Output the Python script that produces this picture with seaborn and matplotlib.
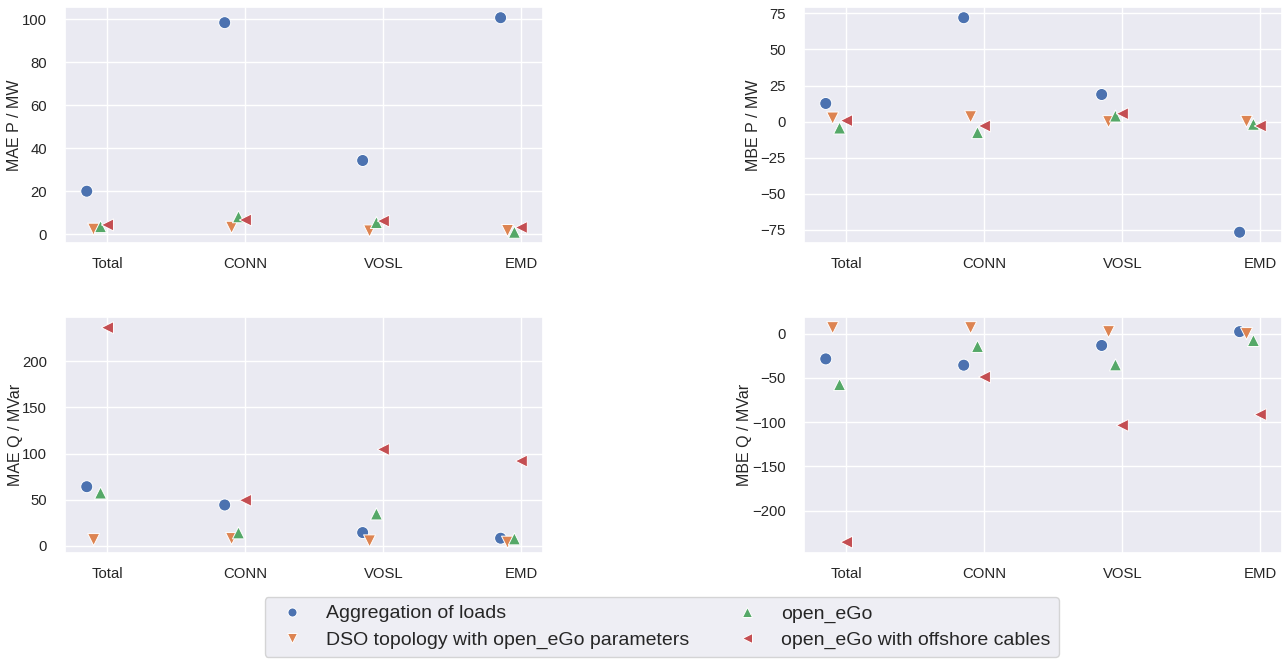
import seaborn as sns
import matplotlib.pyplot as plt
import pandas as pd
import numpy as np

sns.set_theme(style="darkgrid")
plt.rcParams['font.family'] = ['Liberation Sans', 'DejaVu Sans']

CATEGORIES = ['Total', 'CONN', 'VOSL', 'EMD']
MODELS = ['Aggregation of loads', 'DSO topology with open_eGo parameters',
          'open_eGo', 'open_eGo with offshore cables']

# values per model, in order Total, CONN, VOSL, EMD
mae_p = {
    'Aggregation of loads': [20.0, 98.5, 34.3, 100.8],
    'DSO topology with open_eGo parameters': [2.3, 3.2, 1.5, 1.7],
    'open_eGo': [3.5, 8.1, 5.4, 0.9],
    'open_eGo with offshore cables': [4.3, 6.6, 6.1, 3.1],
}
mbe_p = {
    'Aggregation of loads': [12.6, 72.0, 18.8, -76.6],
    'DSO topology with open_eGo parameters': [2.5, 3.4, 0.0, 0.2],
    'open_eGo': [-4.4, -7.6, 3.9, -1.8],
    'open_eGo with offshore cables': [0.7, -3.0, 5.5, -3.0],
}
mae_q = {
    'Aggregation of loads': [64.1, 44.3, 14.4, 8.3],
    'DSO topology with open_eGo parameters': [6.8, 7.9, 5.4, 4.0],
    'open_eGo': [57.3, 14.1, 34.6, 7.6],
    'open_eGo with offshore cables': [236.4, 49.4, 104.5, 91.9],
}
mbe_q = {
    'Aggregation of loads': [-28.6, -35.7, -13.4, 2.2],
    'DSO topology with open_eGo parameters': [6.7, 6.7, 2.2, 0.0],
    'open_eGo': [-57.6, -14.5, -35.3, -7.8],
    'open_eGo with offshore cables': [-235.7, -49.1, -103.7, -91.5],
}

OFFSETS = [-0.15, -0.1, -0.05, 0.0]
MARKERS = ['o', 'v', '^', '<']

panels = [(mae_p, 'MAE P / MW', -0.090), (mbe_p, 'MBE P / MW', -0.090),
          (mae_q, 'MAE Q / MVar', -0.088), (mbe_q, 'MBE Q / MVar', -0.109)]

fig, axes = plt.subplots(2, 2, figsize=(12.85, 6.59), dpi=100)
fig.subplots_adjust(left=0.0506, right=0.9977, top=0.9894, bottom=0.161,
                    wspace=0.546, hspace=0.3136)

for i, (data, label, lx) in enumerate(panels):
    ax = axes.flat[i]
    rows = []
    for m, off in zip(MODELS, OFFSETS):
        for j, c in enumerate(CATEGORIES):
            rows.append({'pos': j + off, 'val': data[m][j], 'model': m})
    df = pd.DataFrame(rows)
    sns.scatterplot(data=df, x='pos', y='val', hue='model', style='model',
                    markers=MARKERS, s=75, ax=ax, legend=(i == 0))
    ax.set_xticks(range(len(CATEGORIES)))
    ax.set_xticklabels(CATEGORIES)
    ax.set_xlabel('')
    ax.set_ylabel(label, fontsize=11.5)
    ax.yaxis.set_label_coords(lx, 0.5)
    ax.tick_params(axis='y', labelsize=10.7, pad=7)
    ax.tick_params(axis='x', labelsize=10.7, pad=4)

handles, labels = axes[0, 0].get_legend_handles_labels()
axes[0, 0].get_legend().remove()
fig.legend(handles, labels, loc='center', bbox_to_anchor=(0.5148, 0.0486), ncol=2,
           fontsize=14, markerscale=0.75, columnspacing=2.0, handletextpad=0.75,
           labelspacing=0.45, frameon=True)

plt.savefig('out.png', dpi=100)
